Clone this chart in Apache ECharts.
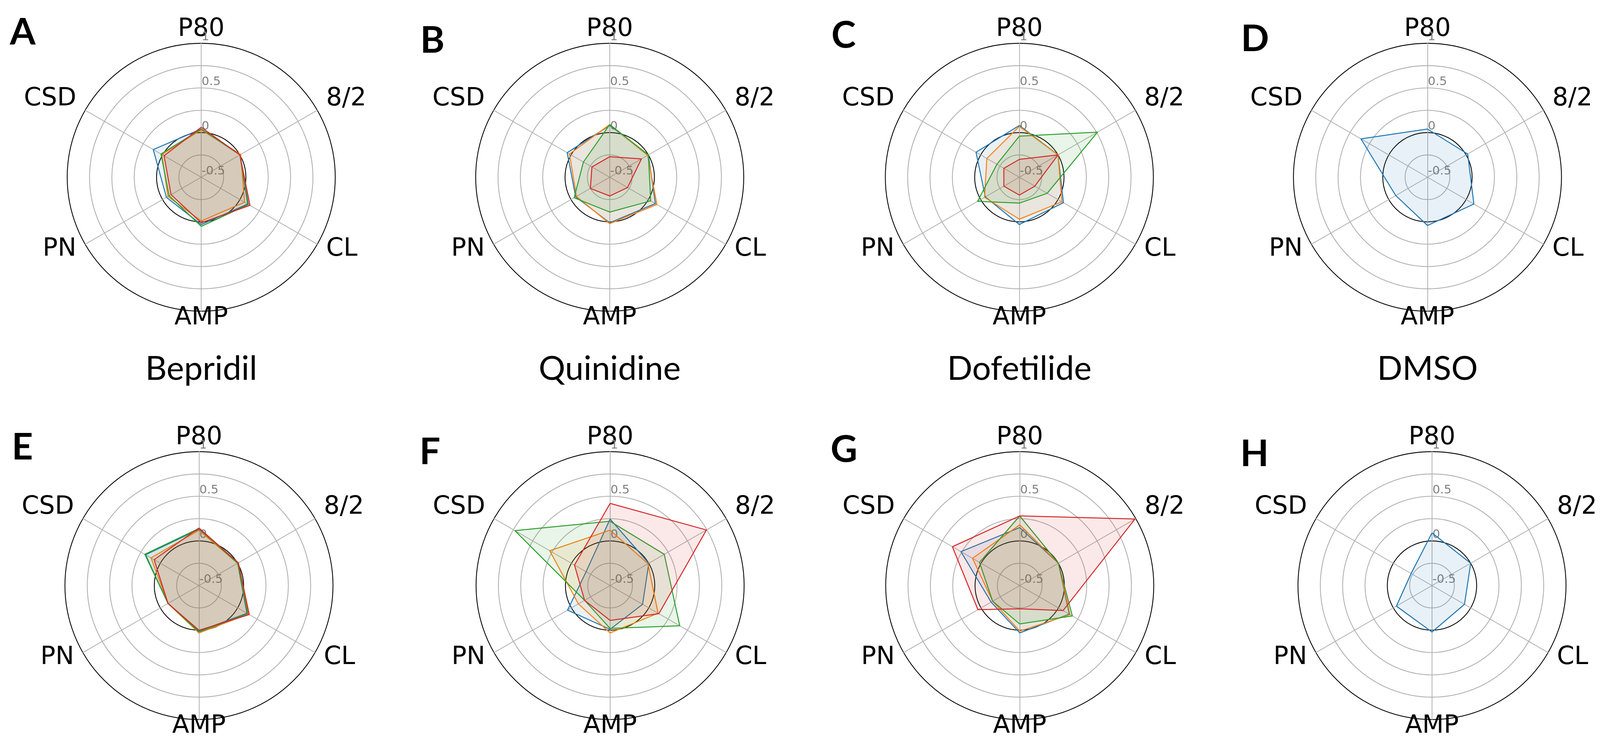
<!DOCTYPE html>
<html>
<head>
<meta charset="utf-8">
<script src="https://cdn.jsdelivr.net/npm/echarts@6/dist/echarts.min.js"></script>
<style>
  html, body { margin: 0; padding: 0; background: #fff; overflow: hidden; }
  #main { width: 100vw; height: 100vh; }
</style>
</head>
<body>
<div id="main"></div>
<script>
// axis names, clockwise from the top as in the figure
var axisNames = ['P80', '8/2', 'CL', 'AMP', 'PN', 'CSD'];
var drugNames = ['Bepridil', 'Quinidine', 'Dofetilide', 'DMSO'];
var panelLetters = ['A', 'B', 'C', 'D', 'E', 'F', 'G', 'H'];
var lineColors = ['#1f77b4', '#ff7f0e', '#2ca02c', '#d62728'];

// one row per line (blue, orange, green, red), values in axisNames order
var panelA = [
    [0.04, 0.00, 0.10, 0.03, -0.05, 0.12],
    [0.03, 0.01, 0.06, -0.01, -0.07, 0.01],
    [0.04, 0.00, 0.11, 0.05, -0.085, 0.02],
    [0.06, 0.00, 0.13, 0.01, -0.11, -0.02]
];
var panelB = [
    [0.08, 0.00, 0.09, 0.01, -0.06, 0.05],
    [0.09, -0.01, 0.11, 0.02, -0.07, 0.02],
    [0.09, 0.00, 0.03, -0.11, -0.04, -0.16],
    [-0.27, -0.09, -0.27, -0.29, -0.25, -0.27]
];
var panelC = [
    [0.08, 0.00, 0.07, 0.03, -0.06, 0.06],
    [0.07, 0.00, 0.05, -0.03, -0.05, -0.08],
    [-0.04, 0.51, -0.14, -0.21, 0.04, -0.21],
    [-0.30, 0.00, -0.30, -0.30, -0.30, -0.30]
];
var panelD = [
    [0.04, 0.02, 0.10, 0.04, -0.09, 0.36]
];
var panelE = [
    [0.13, 0.00, 0.12, 0.01, -0.10, 0.19],
    [0.12, 0.00, 0.14, 0.03, -0.10, 0.12],
    [0.14, 0.00, 0.13, 0.02, -0.10, 0.20],
    [0.145, 0.01, 0.15, 0.00, -0.10, 0.08]
];
var panelF = [
    [0.245, 0.00, -0.08, -0.01, 0.05, -0.19],
    [0.12, -0.01, 0.12, 0.03, -0.09, 0.28],
    [0.22, 0.20, 0.40, -0.02, -0.17, 0.73],
    [0.42, 0.745, 0.13, -0.11, -0.17, -0.04]
];
var panelG = [
    [0.15, 0.00, 0.14, 0.03, -0.13, 0.26],
    [0.18, 0.00, 0.15, 0.01, -0.15, 0.11],
    [0.28, 0.00, 0.18, -0.07, -0.15, 0.02],
    [0.28, 0.99, 0.06, -0.24, 0.04, 0.37]
];
var panelH = [
    [0.09, 0.00, -0.08, 0.02, -0.04, -0.23]
];
var panels = [panelA, panelB, panelC, panelD, panelE, panelF, panelG, panelH];

// layout of the eight polar plots, in pixels of a 4238 x 1934 page
var centers = [
    [533, 454], [1615, 454], [2700, 454], [3781, 454],
    [527, 1500], [1616, 1500], [2701, 1500], [3793, 1500]
];
var letterPos = [
    [26, 36], [1113, 57], [2202, 44], [3287, 53],
    [31, 1099], [1111, 1111], [2200, 1105], [3285, 1116]
];
var R = 355;

var myChart = echarts.init(document.getElementById('main'), null, {renderer: 'canvas'});
// the viewport is not always exactly 4238 wide, so scale the layout to it
var sx = myChart.getWidth() / 4238;
var sy = myChart.getHeight() / 1934;
var s = Math.min(sx, sy);

// echarts radar runs counter-clockwise, so reorder the axes
var order = [0, 5, 4, 3, 2, 1];
function ccw(row) {
    return order.map(function (i) { return row[i]; });
}

// rings at -0.5 ... 1 step .25 ; the 0 ring and the outer ring are black
var ringColors = ['#b0b0b0', '#b0b0b0', '#000000', '#b0b0b0', '#b0b0b0', '#b0b0b0', '#000000'];

function tickFormatter(val) {
    var twice = val * 2;
    if (Math.abs(twice - Math.round(twice)) < 1e-6) {
        return String(Math.round(twice) / 2);
    }
    return '';
}

var radars = [];
var series = [];
var titles = [];

for (var p = 0; p < panels.length; p++) {
    var indicator = ccw(axisNames).map(function (name) {
        var ind = {name: name, min: -0.5, max: 1, nameMoveOverlap: false};
        if (name === '8/2' || name === 'CSD') {
            // upper side names sit with their baseline near the spoke end
            ind.nameTextStyle = {verticalAlign: 'bottom', lineHeight: 34 * s};
        }
        if (name === 'AMP') {
            ind.nameGap = 8 * s;
        }
        if (name === 'P80') {
            ind.axisLabel = {
                show: true,
                color: '#808080',
                fontSize: 32 * s,
                fontFamily: 'DejaVu Sans',
                align: 'left',
                verticalAlign: 'bottom',
                margin: -1 * s,
                showMinLabel: true,
                showMaxLabel: true,
                hideOverlap: false,
                formatter: tickFormatter
            };
        }
        return ind;
    });
    radars.push({
        center: [centers[p][0] * sx, centers[p][1] * sy],
        radius: R * s,
        shape: 'circle',
        startAngle: 90,
        splitNumber: 6,
        indicator: indicator,
        nameGap: 27 * s,
        axisName: {
            color: '#000',
            fontSize: 66 * s,
            fontFamily: 'DejaVu Sans',
            lineHeight: 20 * s
        },
        splitLine: {lineStyle: {color: ringColors, width: 2.2 * s}},
        splitArea: {show: false},
        axisLine: {lineStyle: {color: '#b0b0b0', width: 2 * s}},
        axisTick: {show: false},
        axisLabel: {show: false}
    });
    var rows = panels[p];
    for (var k = 0; k < rows.length; k++) {
        series.push({
            type: 'radar',
            radarIndex: p,
            symbol: 'none',
            silent: true,
            data: [{
                value: ccw(rows[k]),
                lineStyle: {color: lineColors[k], width: 2.6 * s},
                areaStyle: {color: lineColors[k], opacity: 0.1}
            }]
        });
    }
    titles.push({
        text: panelLetters[p],
        left: letterPos[p][0] * sx,
        top: letterPos[p][1] * sy,
        padding: 0,
        textStyle: {fontSize: 98 * s, fontWeight: 'bold', fontFamily: 'Lato', color: '#000'}
    });
}

for (var d = 0; d < drugNames.length; d++) {
    titles.push({
        text: drugNames[d],
        left: centers[d][0] * sx,
        top: 903 * sy,
        textAlign: 'center',
        padding: 0,
        textStyle: {fontSize: 88 * s, fontWeight: 'normal', fontFamily: 'Lato', color: '#000'}
    });
}

myChart.setOption({
    backgroundColor: '#ffffff',
    animation: false,
    title: titles,
    radar: radars,
    series: series
});
</script>
</body>
</html>
